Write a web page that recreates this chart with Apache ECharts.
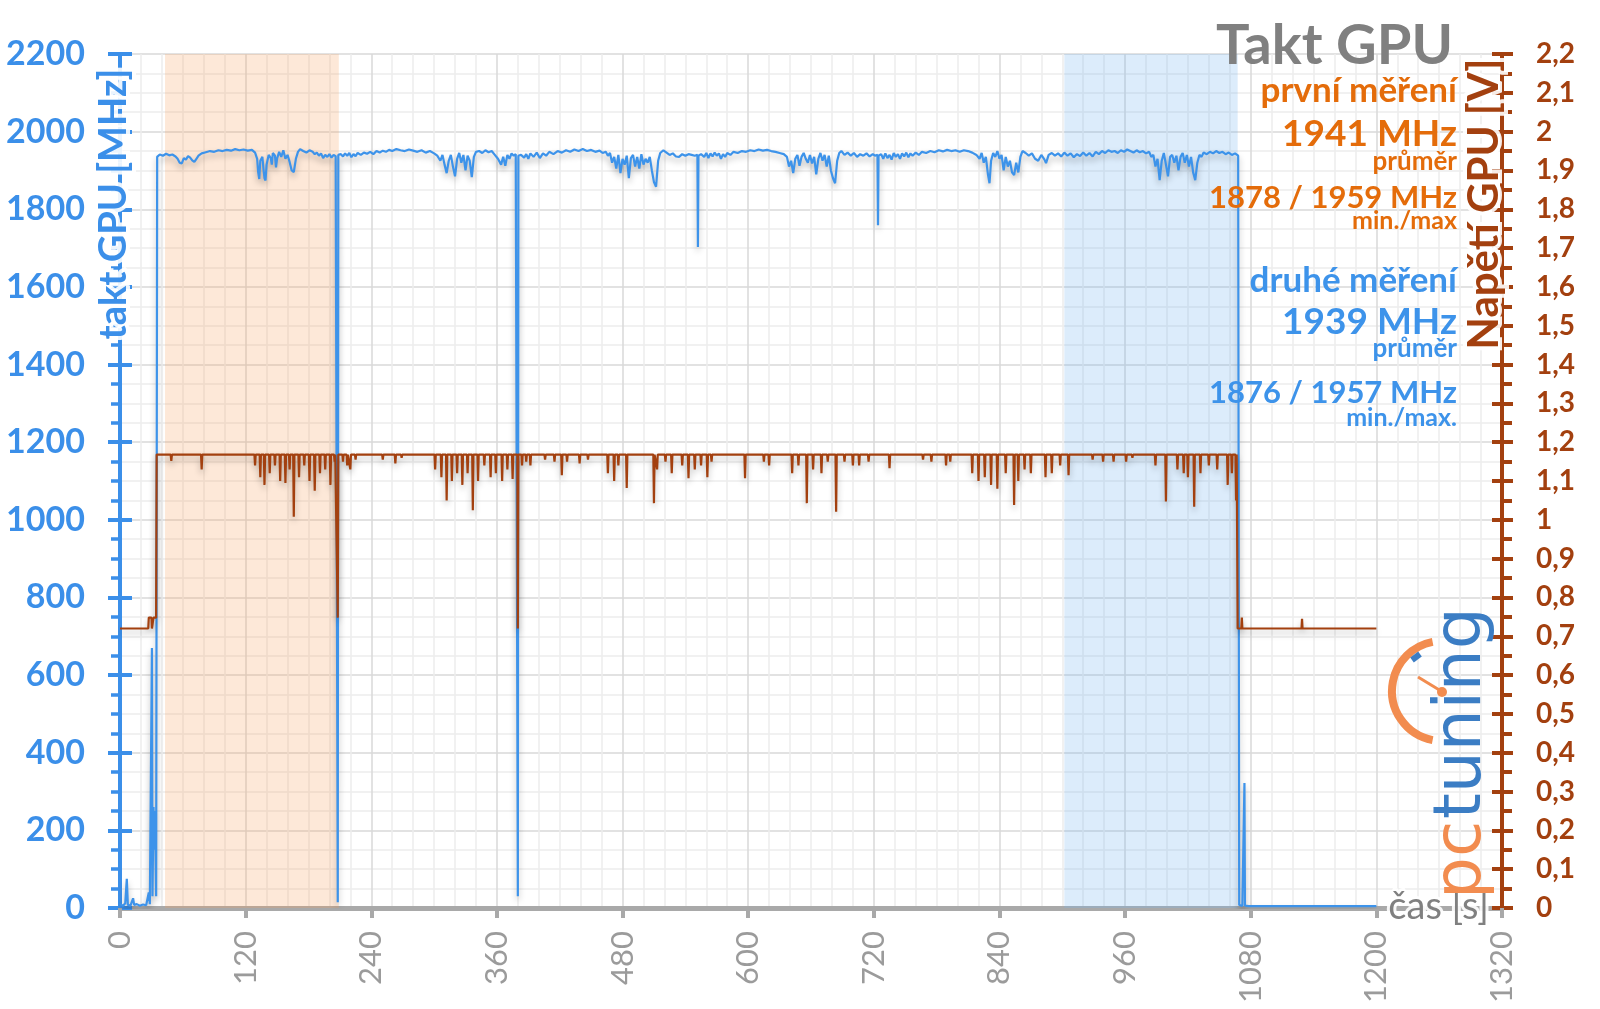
<!DOCTYPE html>
<html>
<head>
<meta charset="utf-8">
<script src="https://cdn.jsdelivr.net/npm/echarts@6/dist/echarts.min.js"></script>
<style>
html,body{margin:0;padding:0;background:#fff;}
#chart{width:1600px;height:1009px;}
</style>
</head>
<body>
<div id="chart"></div>
<script>
// ---- data ----
const xTicks = [0,120,240,360,480,600,720,840,960,1080,1200,1320];
const clockTicks = [0,200,400,600,800,1000,1200,1400,1600,1800,2000,2200];
const voltTicks = [0,0.1,0.2,0.3,0.4,0.5,0.6,0.7,0.8,0.9,1,1.1,1.2,1.3,1.4,1.5,1.6,1.7,1.8,1.9,2,2.1,2.2];

// measurement windows [start s, end s]
const windowFirst = [43, 209];
const windowSecond = [902, 1067.5];

// GPU clock [s, MHz]
const clockData = [
[0,10],[3,6],[5,12],[6.5,75],[7.5,8],[10,6],[12.5,25],[13.5,8],[16,10],[19,6],[22,9],[25,7],[27.5,40],[28.5,10],[29.5,12],[30.5,670],[31,30],[32,260],[32.5,150],[33.5,250],[34.5,30],[35.5,1935],
[38,1941],[41,1938],[44,1943],[47,1939],[50,1941],[53,1936],[55,1930],[57,1920],[59,1918],[61,1932],[63,1928],[65,1937],[67,1933],[69,1926],[71,1922],[73,1930],[75,1938],[78,1944],[82,1947],[86,1950],[90,1948],[94,1952],[98,1950],[102,1953],[106,1951],[110,1955],[114,1952],[118,1954],[122,1951],[126,1953],[129,1946],[131,1930],[132,1895],[133,1878],[134,1925],[136,1935],[137,1905],[138,1880],[139,1874],[140,1915],[142,1940],[144,1932],[145,1915],[146,1945],[148,1938],[149,1908],[150,1930],[152,1948],[154,1935],[156,1952],[158,1930],[160,1940],[162,1922],[164,1900],[166,1896],[168,1930],[170,1948],[172,1955],[175,1950],[178,1946],[181,1952],[184,1948],[186,1942],[188,1946],[190,1938],[192,1944],[194,1932],[196,1940],[198,1935],[200,1942],[202,1933],[204,1940],[206,1937],[207.5,1942],[208,15],[208.5,1940],
[211,1942],[213,1936],[215,1944],[217,1938],[219,1945],[221,1934],[223,1942],[225,1937],[227,1945],[230,1940],[233,1946],[236,1943],[239,1948],[242,1942],[245,1950],[248,1946],[251,1951],[254,1948],[257,1953],[260,1950],[264,1955],[268,1952],[272,1950],[276,1954],[280,1951],[284,1948],[288,1952],[292,1946],[296,1950],[300,1944],[303,1938],[306,1925],[308,1940],[310,1915],[312,1893],[314,1925],[316,1940],[318,1910],[320,1885],[322,1930],[324,1945],[326,1920],[328,1940],[330,1900],[332,1938],[334,1925],[336,1883],[338,1935],[340,1948],[343,1950],[346,1945],[349,1952],[352,1947],[355,1950],[358,1940],[361,1930],[364,1915],[366,1935],[368,1912],[370,1940],[372,1930],[374,1944],[376,1938],[378,1942],[379.5,1940],[380,30],[380.5,1938],
[383,1940],[386,1933],[388,1942],[390,1930],[392,1944],[395,1935],[398,1946],[401,1932],[404,1944],[407,1938],[410,1948],[414,1942],[418,1950],[422,1946],[426,1952],[430,1948],[434,1954],[438,1950],[442,1955],[446,1950],[450,1953],[454,1948],[458,1951],[461,1945],[464,1948],[466,1938],[468,1945],[470,1920],[472,1935],[474,1905],[476,1940],[478,1893],[480,1930],[482,1915],[484,1938],[486,1880],[488,1932],[490,1940],[492,1910],[494,1935],[496,1905],[498,1942],[500,1915],[502,1930],[504,1920],[506,1935],[508,1900],[510,1870],[512,1858],[514,1925],[516,1945],[519,1952],[522,1946],[525,1940],[528,1944],[531,1936],[534,1935],[537,1942],[540,1938],[543,1942],[546,1940],[549,1938],[551.5,1940],[552,1703],[552.5,1938],[555,1942],[558,1935],[560,1945],[562,1932],[564,1944],[566,1936],[568,1946],[570,1938],[572,1944],[574,1930],[576,1942],[578,1935],[580,1945],[583,1940],[586,1948],[590,1945],[594,1950],[598,1948],[602,1952],[606,1950],[610,1954],[614,1951],[618,1953],[622,1950],[626,1948],[630,1945],[634,1942],[637,1935],[639,1910],[641,1925],[643,1893],[645,1930],[647,1940],[649,1912],[651,1935],[653,1945],[655,1930],[657,1920],[659,1940],[661,1918],[663,1935],[665,1890],[667,1930],[669,1945],[671,1925],[673,1940],[675,1910],[677,1938],[679,1900],[681,1880],[683,1867],[685,1925],[687,1945],[689,1950],[692,1940],[695,1946],[698,1938],[701,1945],[704,1935],[707,1942],[710,1938],[713,1944],[716,1936],[719,1942],[721,1938],[723.5,1940],[724,1759],[724.5,1938],[727,1942],[729,1930],[731,1944],[733,1932],[735,1940],[737,1928],[739,1945],[741,1935],[743,1942],[745,1930],[747,1944],[749,1936],[751,1946],[753,1934],[755,1944],[757,1938],[760,1946],[763,1940],[766,1948],[770,1945],[774,1950],[778,1947],[782,1952],[786,1949],[790,1953],[794,1950],[798,1952],[802,1948],[806,1952],[810,1950],[814,1946],[818,1940],[821,1930],[823,1945],[825,1920],[827,1935],[829,1890],[830.5,1867],[832,1925],[834,1945],[836,1935],[838,1950],[840,1930],[842,1940],[844,1900],[846,1935],[848,1910],[850,1925],[852,1895],[854,1888],[856,1920],[858,1895],[860,1935],[862,1950],[865,1945],[868,1938],[871,1944],[874,1930],[877,1925],[880,1940],[883,1928],[884.5,1919],[887,1940],[890,1945],[893,1938],[896,1944],[899,1936],[902,1946],[905,1938],[908,1944],[911,1934],[914,1942],[917,1937],[920,1946],[923,1938],[926,1945],[929,1936],[932,1948],[935,1942],[938,1950],[941,1945],[944,1952],[947,1948],[950,1950],[953,1945],[956,1952],[959,1948],[962,1954],[965,1950],[968,1946],[971,1952],[974,1947],[977,1950],[980,1944],[983,1948],[985,1935],[987,1940],[989,1910],[991,1930],[993,1875],[995,1925],[997,1945],[999,1915],[1001,1885],[1003,1935],[1005,1940],[1007,1920],[1009,1938],[1011,1900],[1013,1935],[1015,1945],[1017,1920],[1019,1940],[1021,1910],[1023,1935],[1025,1895],[1027,1875],[1029,1920],[1031,1940],[1033,1935],[1035,1946],[1038,1942],[1041,1948],[1044,1944],[1047,1950],[1050,1945],[1053,1948],[1056,1942],[1059,1946],[1062,1940],[1065,1944],[1068,1938],[1069,8],[1072,5],[1073.5,8],[1074,322],[1074.5,6],[1078,5],[1100,5],[1150,5],[1200,5]
];

// GPU voltage [s, V]
const voltData = [
[0,0.72],[27,0.72],[27.5,0.748],[30,0.748],[30.5,0.72],[31.5,0.72],[32,0.748],[34.5,0.748],[35,1.168],
[48.4,1.168],[49,1.152],[49.6,1.168],[77.4,1.168],[78,1.13],[78.6,1.168],
[128.4,1.168],[129,1.14],[129.6,1.168],[133.4,1.168],[134,1.11],[134.6,1.168],[137.4,1.168],[138,1.09],[138.6,1.168],[142.4,1.168],[143,1.12],[143.6,1.168],[147.4,1.168],[148,1.14],[148.6,1.168],[152.4,1.168],[153,1.1],[153.6,1.168],[157.4,1.168],[158,1.095],[158.6,1.168],[161.4,1.168],[162,1.13],[162.6,1.168],[165.4,1.168],[166,1.008],[166.6,1.168],[170.4,1.168],[171,1.11],[171.6,1.168],[175.4,1.168],[176,1.14],[176.6,1.168],[180.4,1.168],[181,1.1],[181.6,1.168],[185.4,1.168],[186,1.075],[186.6,1.168],[190.4,1.168],[191,1.12],[191.6,1.168],[195.4,1.168],[196,1.13],[196.6,1.168],[200.4,1.168],[201,1.09],[201.6,1.168],[204.4,1.168],[205,1.15],[205.6,1.168],[207.5,1.168],[208,0.748],[208.5,1.168],
[212.4,1.168],[213,1.15],[213.6,1.168],[216.4,1.168],[217,1.14],[217.6,1.168],[219.4,1.168],[220,1.13],[220.6,1.168],[224.4,1.168],[225,1.155],[225.6,1.168],
[250.4,1.168],[251,1.155],[251.6,1.168],[262.4,1.168],[263,1.145],[263.6,1.168],[268.4,1.168],[269,1.16],[269.6,1.168],
[300.4,1.168],[301,1.13],[301.6,1.168],[306.4,1.168],[307,1.11],[307.6,1.168],[311.4,1.168],[312,1.05],[312.6,1.168],[316.4,1.168],[317,1.1],[317.6,1.168],[321.4,1.168],[322,1.12],[322.6,1.168],[326.4,1.168],[327,1.09],[327.6,1.168],[331.4,1.168],[332,1.12],[332.6,1.168],[336.4,1.168],[337,1.025],[337.6,1.168],[341.4,1.168],[342,1.1],[342.6,1.168],[347.4,1.168],[348,1.14],[348.6,1.168],[353.4,1.168],[354,1.11],[354.6,1.168],[358.4,1.168],[359,1.12],[359.6,1.168],[364.4,1.168],[365,1.1],[365.6,1.168],[369.4,1.168],[370,1.13],[370.6,1.168],[374.4,1.168],[375,1.105],[375.6,1.168],[379.5,1.168],[380,0.72],[380.5,1.168],
[383.4,1.168],[384,1.14],[384.6,1.168],[387.4,1.168],[388,1.15],[388.6,1.168],[391.4,1.168],[392,1.14],[392.6,1.168],
[405.4,1.168],[406,1.155],[406.6,1.168],[414.4,1.168],[415,1.15],[415.6,1.168],[421.4,1.168],[422,1.115],[422.6,1.168],[426.4,1.168],[427,1.15],[427.6,1.168],[438.4,1.168],[439,1.145],[439.6,1.168],[446.4,1.168],[447,1.155],[447.6,1.168],
[465.4,1.168],[466,1.12],[466.6,1.168],[471.4,1.168],[472,1.10],[472.6,1.168],[475.4,1.168],[476,1.14],[476.6,1.168],[483.4,1.168],[484,1.082],[484.6,1.168],
[509.4,1.168],[510,1.043],[510.6,1.168],[512.4,1.168],[513,1.13],[513.6,1.168],[520.4,1.168],[521,1.15],[521.6,1.168],[526.4,1.168],[527,1.12],[527.6,1.168],[536.4,1.168],[537,1.14],[537.6,1.168],[542.4,1.168],[543,1.107],[543.6,1.168],[548.4,1.168],[549,1.13],[549.6,1.168],[554.4,1.168],[555,1.14],[555.6,1.168],[560.4,1.168],[561,1.11],[561.6,1.168],[564.4,1.168],[565,1.15],[565.6,1.168],
[596.4,1.168],[597,1.107],[597.6,1.168],[614.4,1.168],[615,1.15],[615.6,1.168],[619.4,1.168],[620,1.14],[620.6,1.168],
[641.4,1.168],[642,1.12],[642.6,1.168],[647.4,1.168],[648,1.14],[648.6,1.168],[655.4,1.168],[656,1.043],[656.6,1.168],[661.4,1.168],[662,1.13],[662.6,1.168],[669.4,1.168],[670,1.12],[670.6,1.168],[675.4,1.168],[676,1.15],[676.6,1.168],[683.4,1.168],[684,1.021],[684.6,1.168],[691.4,1.168],[692,1.15],[692.6,1.168],[699.4,1.168],[700,1.14],[700.6,1.168],[705.4,1.168],[706,1.14],[706.6,1.168],[714.4,1.168],[715,1.15],[715.6,1.168],[734.4,1.168],[735,1.133],[735.6,1.168],
[766.4,1.168],[767,1.155],[767.6,1.168],[774.4,1.168],[775,1.15],[775.6,1.168],[788.4,1.168],[789,1.14],[789.6,1.168],[792.4,1.168],[793,1.15],[793.6,1.168],
[813.4,1.168],[814,1.12],[814.6,1.168],[819.4,1.168],[820,1.10],[820.6,1.168],[825.4,1.168],[826,1.11],[826.6,1.168],[831.4,1.168],[832,1.09],[832.6,1.168],[837.4,1.168],[838,1.08],[838.6,1.168],[845.4,1.168],[846,1.12],[846.6,1.168],[853.4,1.168],[854,1.038],[854.6,1.168],[857.4,1.168],[858,1.1],[858.6,1.168],[863.4,1.168],[864,1.13],[864.6,1.168],[869.4,1.168],[870,1.12],[870.6,1.168],[883.4,1.168],[884,1.11],[884.6,1.168],[889.4,1.168],[890,1.12],[890.6,1.168],[897.4,1.168],[898,1.14],[898.6,1.168],[905.4,1.168],[906,1.115],[906.6,1.168],
[928.4,1.168],[929,1.155],[929.6,1.168],[938.4,1.168],[939,1.15],[939.6,1.168],[948.4,1.168],[949,1.15],[949.6,1.168],[960.4,1.168],[961,1.15],[961.6,1.168],[966.4,1.168],[967,1.16],[967.6,1.168],
[988.4,1.168],[989,1.14],[989.6,1.168],[998.4,1.168],[999,1.047],[999.6,1.168],[1009.4,1.168],[1010,1.13],[1010.6,1.168],[1015.4,1.168],[1016,1.12],[1016.6,1.168],[1019.4,1.168],[1020,1.11],[1020.6,1.168],[1025.4,1.168],[1026,1.034],[1026.6,1.168],[1031.4,1.168],[1032,1.12],[1032.6,1.168],[1039.4,1.168],[1040,1.14],[1040.6,1.168],[1047.4,1.168],[1048,1.13],[1048.6,1.168],[1057.4,1.168],[1058,1.09],[1058.6,1.168],[1061.4,1.168],[1062,1.12],[1062.6,1.168],[1065.4,1.168],[1066,1.05],[1066.6,1.168],
[1067,1.168],[1067.5,0.72],[1071,0.72],[1071.5,0.748],[1072,0.72],[1128.5,0.72],[1129,0.745],[1129.5,0.72],[1200,0.72]
];

// ---- style ----
const BLUE = '#3d93ea';
const AXBLUE = '#3b8fe9';
const BROWN = '#a3400f';
const ORANGE = '#e46c0a';
const FONT = 'Lato, "Open Sans", sans-serif';

const chart = echarts.init(document.getElementById('chart'));

function txt(text, x, y, size, color, opts) {
  opts = opts || {};
  return {
    type: 'text', x: x, y: y, rotation: opts.rotation || 0, z: 100, zlevel: 1,
    style: {
      text: text, fill: color,
      font: (opts.weight || 'bold') + ' ' + size + 'px ' + FONT,
      align: opts.align || 'right', verticalAlign: 'middle',
      stroke: opts.halo ? 'rgba(255,255,255,0.9)' : null, lineWidth: opts.halo || 0, strokeFirst: true,
      shadowColor: 'rgba(255,255,255,1)', shadowBlur: opts.blur === undefined ? 8 : opts.blur
    }
  };
}

const plainFmt = v => String(v);
const voltFmt = v => String(Math.round(v * 10) / 10).replace('.', ',');

const option = {
  backgroundColor: '#fff',
  animation: false,
  grid: { left: 120, right: 98, top: 54, bottom: 101, containLabel: false },
  xAxis: {
    type: 'value', min: xTicks[0], max: xTicks[xTicks.length - 1], interval: 120,
    axisLine: { show: true, onZero: false, lineStyle: { color: '#a9a9a9', width: 5 } },
    axisTick: { show: true, length: 10, lineStyle: { color: '#a9a9a9', width: 4 } },
    axisLabel: { rotate: 90, margin: 23, color: '#9b9b9b', fontSize: 31, fontFamily: FONT, formatter: plainFmt },
    splitLine: { show: true, lineStyle: { color: '#d9d9d9', width: 1.5 } },
    minorTick: { show: false, splitNumber: 6 },
    minorSplitLine: { show: true, lineStyle: { color: '#ededed', width: 1.5 } }
  },
  yAxis: [
    {
      type: 'value', position: 'left', min: clockTicks[0], max: clockTicks[clockTicks.length - 1], interval: 200,
      axisLine: { show: true, lineStyle: { color: AXBLUE, width: 4 } },
      axisTick: { show: true, length: 12, lineStyle: { color: AXBLUE, width: 4 } },
      minorTick: { show: true, splitNumber: 4, length: 9, lineStyle: { color: AXBLUE, width: 3.5 } },
      axisLabel: { margin: 35, color: AXBLUE, fontSize: 34, fontWeight: 'bold', fontFamily: FONT, formatter: plainFmt },
      splitLine: { show: true, lineStyle: { color: '#d9d9d9', width: 1.5 } },
      minorSplitLine: { show: true, lineStyle: { color: '#ededed', width: 1.5 } }
    },
    {
      type: 'value', position: 'right', min: voltTicks[0], max: voltTicks[voltTicks.length - 1], interval: 0.1,
      axisLine: { show: true, lineStyle: { color: BROWN, width: 4 } },
      axisTick: { show: true, length: 11, lineStyle: { color: BROWN, width: 4 } },
      minorTick: { show: true, splitNumber: 2, length: 10, lineStyle: { color: BROWN, width: 4 } },
      axisLabel: { margin: 34, color: BROWN, fontSize: 28, fontWeight: 'bold', fontFamily: FONT, formatter: voltFmt },
      splitLine: { show: false }
    },
    {
      type: 'value', position: 'left', min: clockTicks[0], max: clockTicks[clockTicks.length - 1], interval: 200,
      axisLine: { show: false },
      axisTick: { show: true, inside: true, length: 12, lineStyle: { color: AXBLUE, width: 4 } },
      axisLabel: { show: false }, splitLine: { show: false }
    },
    {
      type: 'value', position: 'right', min: voltTicks[0], max: voltTicks[voltTicks.length - 1], interval: 0.1,
      axisLine: { show: false },
      axisTick: { show: true, inside: true, length: 10, lineStyle: { color: BROWN, width: 4 } },
      axisLabel: { show: false }, splitLine: { show: false }
    }
  ],
  series: [
    {
      name: 'takt', type: 'line', yAxisIndex: 0, data: clockData, showSymbol: false, z: 3,
      lineStyle: { color: BLUE, width: 2.2, shadowColor: 'rgba(0,0,0,0.28)', shadowBlur: 6, shadowOffsetY: 4 },
      markArea: {
        silent: true,
        data: [
          [{ xAxis: windowFirst[0], itemStyle: { color: 'rgba(245,160,90,0.24)' } }, { xAxis: windowFirst[1] }],
          [{ xAxis: windowSecond[0], itemStyle: { color: 'rgba(120,180,240,0.26)' } }, { xAxis: windowSecond[1] }]
        ]
      }
    },
    {
      name: 'napeti', type: 'line', yAxisIndex: 1, data: voltData, showSymbol: false, z: 4,
      lineStyle: { color: BROWN, width: 2.2, shadowColor: 'rgba(0,0,0,0.28)', shadowBlur: 6, shadowOffsetY: 4 }
    }
  ],
  graphic: [
    txt('Takt GPU', 1453, 46, 56, '#808080'),
    txt('první měření', 1457, 91, 35, ORANGE),
    txt('1941 MHz', 1457, 134, 37, ORANGE),
    txt('průměr', 1457, 162, 26, ORANGE),
    txt('1878 / 1959 MHz', 1457, 198, 31, ORANGE),
    txt('min./max', 1457, 221, 25, ORANGE),
    txt('druhé měření', 1457, 281, 35, BLUE),
    txt('1939 MHz', 1457, 322, 37, BLUE),
    txt('průměr', 1457, 349, 26, BLUE),
    txt('1876 / 1957 MHz', 1457, 393, 31, BLUE),
    txt('min./max.', 1457, 418, 25, BLUE),
    txt('takt GPU [MHz]', 114, 204, 38, AXBLUE, { rotation: Math.PI / 2, align: 'center', halo: 8, blur: 12 }),
    txt('Napětí GPU [V]', 1484, 204, 42, BROWN, { rotation: Math.PI / 2, align: 'center', halo: 8, blur: 12 }),
    txt('čas [s]', 1489, 907, 38, '#808080', { weight: 'normal', halo: 6, blur: 10 }),
    // logo
    {
      type: 'arc', z: 110, zlevel: 1,
      shape: { cx: 1442, cy: 691, r: 50, startAngle: Math.PI * 0.56, endAngle: Math.PI * 1.44, clockwise: true },
      style: { stroke: '#f28c4f', lineWidth: 8, fill: null }
    },
    { type: 'line', z: 110, zlevel: 1, shape: { x1: 1418, y1: 677, x2: 1441, y2: 691 }, style: { stroke: '#f28c4f', lineWidth: 3 } },
    { type: 'circle', z: 110, zlevel: 1, shape: { cx: 1442, cy: 692, r: 5 }, style: { fill: '#f28c4f' } },
    { type: 'line', z: 111, zlevel: 1, shape: { x1: 1412, y1: 660, x2: 1420, y2: 654 }, style: { stroke: '#3b7dc4', lineWidth: 6 } },
    {
      type: 'text', x: 1463, y: 899, rotation: Math.PI / 2, z: 112, zlevel: 1,
      style: { text: 'pc', fill: '#f28c4f', font: 'normal 66px "DejaVu Sans", sans-serif', align: 'left', verticalAlign: 'middle' }
    },
    {
      type: 'text', x: 1463, y: 819, rotation: Math.PI / 2, z: 112, zlevel: 1,
      style: { text: 'tuning', fill: '#3b7dc4', font: 'normal 66px "DejaVu Sans", sans-serif', align: 'left', verticalAlign: 'middle' }
    }
  ]
};
chart.setOption(option);
</script>
</body>
</html>
